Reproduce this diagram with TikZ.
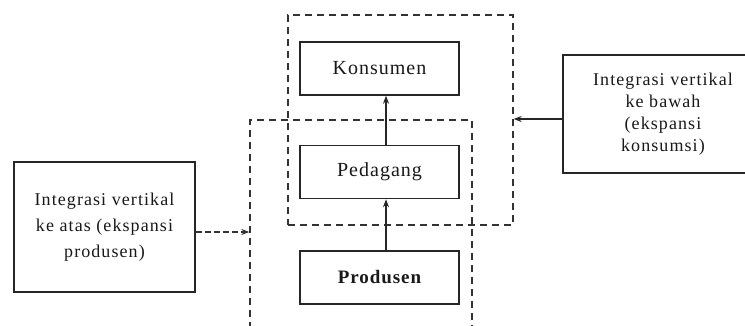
\documentclass[tikz,border=0pt]{standalone}
\usepackage{fontspec}
\setmainfont{Liberation Serif}
\newfontfamily\boxfont[LetterSpace=5]{Liberation Serif}
\newfontfamily\sidefont[LetterSpace=6]{Liberation Serif}
\usetikzlibrary{arrows.meta}
\begin{document}
\begin{tikzpicture}[x=1pt,y=-1pt,
  solidbox/.style={draw=black!85,line width=1.5pt,minimum width=159pt,minimum height=53pt,inner sep=0pt,
    font=\boxfont\fontsize{20}{22}\selectfont,text=black!90},
  sidebox/.style={draw=black!85,line width=1.4pt,inner sep=0pt,align=center,text=black!90},
  dashbox/.style={draw=black!80,line width=1.3pt,dash pattern=on 7pt off 5pt,inner sep=0pt},
  flow/.style={draw=black!85,line width=1.5pt,-{Stealth[length=8pt,width=6pt]}}]
\useasboundingbox (0,0) rectangle (745,325);
\clip (0,0) rectangle (745,325);
\fill[white] (0,0) rectangle (745,325);
% dashed groups
\node[dashbox,minimum width=225pt,minimum height=210pt] (upper) at (400.5,120) {};
\node[dashbox,minimum width=222pt,minimum height=230pt] (lower) at (361,235) {};
% main boxes
\node[solidbox] (kons) at (379.5,68.5) {Konsumen};
\node[solidbox] (ped) at (379.5,172) {Pedagang};
\node[solidbox,font=\boxfont\bfseries\fontsize{19}{22}\selectfont] (prod) at (379.5,277.5) {Produsen};
\draw[flow] (ped.north -| 386,0) -- (kons.south -| 386,0);
\draw[flow] (prod.north -| 386,0) -- (ped.south -| 386,0);
% side boxes
\node[sidebox,minimum width=181pt,minimum height=130pt,font=\sidefont\fontsize{18}{26}\selectfont] (left) at (104.5,227)
  {Integrasi vertikal\\ke atas (ekspansi\\produsen)};
\node[sidebox,minimum width=200pt,minimum height=118pt,font=\sidefont\fontsize{18}{22}\selectfont] (right) at (663,114)
  {Integrasi vertikal\\ke bawah\\(ekspansi\\konsumsi)};
\draw[draw=black!80,line width=1.3pt,dash pattern=on 6pt off 3pt,-{Stealth[length=8pt,width=6pt]}]
  (left.east |- 0,232) -- (lower.west |- 0,232);
\draw[draw=black!85,line width=1.5pt,-{Stealth[length=8pt,width=6pt]}]
  (right.west |- 0,119) -- (upper.east |- 0,119);
\end{tikzpicture}
\end{document}
